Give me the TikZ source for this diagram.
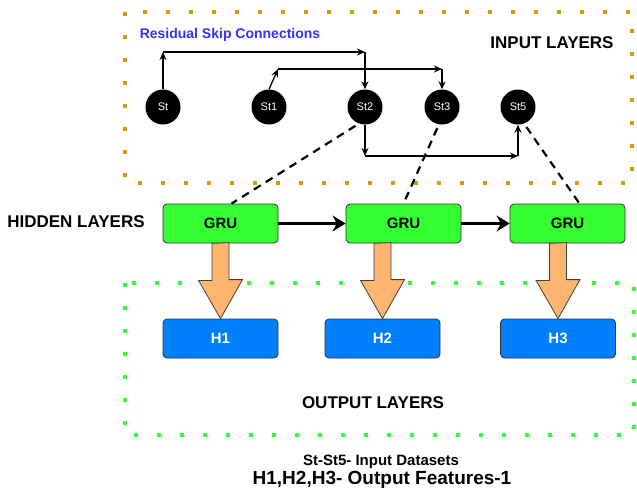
\documentclass[tikz,border=0pt]{standalone}
\usepackage{fontspec}
\setmainfont{Liberation Sans}
\usepackage{tikz}
\usetikzlibrary{arrows.meta}
\usetikzlibrary{calc}

\definecolor{frameorange}{HTML}{D79B00}
\definecolor{framegreen}{HTML}{33FF33}
\definecolor{grufill}{HTML}{33FF33}
\definecolor{hfill}{HTML}{007FFF}
\definecolor{flowfill}{HTML}{FFB570}
\definecolor{skipblue}{HTML}{3333FF}

\tikzset{
  stnode/.style={circle, fill=black, minimum size=35pt, inner sep=0pt, text=white, font=\fontsize{11}{13}\selectfont},
  grubox/.style={rectangle, rounded corners=4pt, draw=black!80, line width=0.8pt, fill=grufill, minimum width=115pt, minimum height=39pt, font=\bfseries\fontsize{15}{18}\selectfont},
  hbox/.style={grubox, fill=hfill, text=white},
  layerframe/.style={line width=4pt, dash pattern=on 4pt off 19pt},
  skiparrow/.style={line width=1.3pt, -{Stealth[length=8pt,width=7pt]}},
  gruarrow/.style={line width=3pt, -{Stealth[length=13pt,width=16pt]}},
  dropline/.style={line width=2.2pt, dash pattern=on 8pt off 6pt, shorten <=4pt},
  flowarrow/.style={draw=black!75, fill=flowfill, line width=0.8pt, line join=miter},
  layertitle/.style={font=\bfseries\fontsize{17}{20}\selectfont}
}

\begin{document}
\begin{tikzpicture}[x=1pt, y=-1pt]
\useasboundingbox (0,0) rectangle (637,499);

% dotted frames round the layers
\draw[layerframe, frameorange] (125,12) rectangle (632,183);
\draw[layerframe, framegreen] (125,283) rectangle (634,435);

% First, define nodes
\draw (163,107) node[stnode] (St) {St};
\draw (269,107) node[stnode] (St1) {St1};
\draw (365,107) node[stnode] (St2) {St2};
\draw (442,107) node[stnode] (St3) {St3};
\draw (518,107) node[stnode] (St5) {St5};

\draw (220.5,223.5) node[grubox] (gru1) {GRU};
\draw (403.5,223.5) node[grubox] (gru2) {GRU};
\draw (567.5,223.5) node[grubox] (gru3) {GRU};

\draw (220.5,338.5) node[hbox] (h1) {H1};
\draw (382.5,338.5) node[hbox] (h2) {H2};
\draw (558,338.5) node[hbox] (h3) {H3};

% texts
\draw (230,35) node[font=\bfseries\fontsize{14}{17}\selectfont, text=skipblue] (skiptext) {Residual Skip Connections};
\draw (552,43) node[layertitle] (intext) {INPUT LAYERS};
\draw (76,222) node[layertitle] (hiddentext) {HIDDEN LAYERS};
\draw (373,403) node[layertitle] (outtext) {OUTPUT LAYERS};
\draw (381,462) node[font=\bfseries\fontsize{15}{18}\selectfont] (note1) {St-St5- Input Datasets};
\draw (382,480) node[font=\bfseries\fontsize{19}{22}\selectfont] (note2) {H1,H2,H3- Output Features-1};

% corners of the skip connections
\coordinate (sk1) at (163,52);
\coordinate (sk2) at (365,52);
\coordinate (sk3) at (278,69);
\coordinate (sk4) at (442,69);
\coordinate (sk5) at (365,156);
\coordinate (sk6) at (518,156);

% skip connections, one tip on every segment
\draw[skiparrow] (St) -- (sk1);
\draw[skiparrow] (sk1) -- (sk2);
\draw[skiparrow] (sk2) -- (St2);
\draw[skiparrow] (St1.north) -- (sk3);
\draw[skiparrow] (sk3) -- (sk4);
\draw[skiparrow] (sk4) -- (St3);
\draw[skiparrow] (St2) -- (sk5);
\draw[skiparrow] (sk5) -- (sk6);
\draw[skiparrow] (sk6) -- (St5);

% inputs going down to the GRUs
\draw[dropline] (St2.250) -- ([xshift=11pt]gru1.north);
\draw[dropline] (St3.260) -- (gru2.north);
\draw[dropline] (St5.290) -- ([xshift=12pt]gru3.north);

% GRU chain
\draw[gruarrow] (gru1) -- (gru2);
\draw[gruarrow] (gru2) -- (gru3);

% block arrows to the outputs
\foreach \g/\h in {gru1/h1, gru2/h2, gru3/h3} {
  \draw[flowarrow] ($(\g.south -| \h.north)+(-8.5,0)$) -- ++(0,37) -- ++(-13.5,0)
    -- (\h.north) -- ++(22,-39) -- ++(-13.5,0) -- ++(0,-37) -- cycle;
}

\end{tikzpicture}
\end{document}
